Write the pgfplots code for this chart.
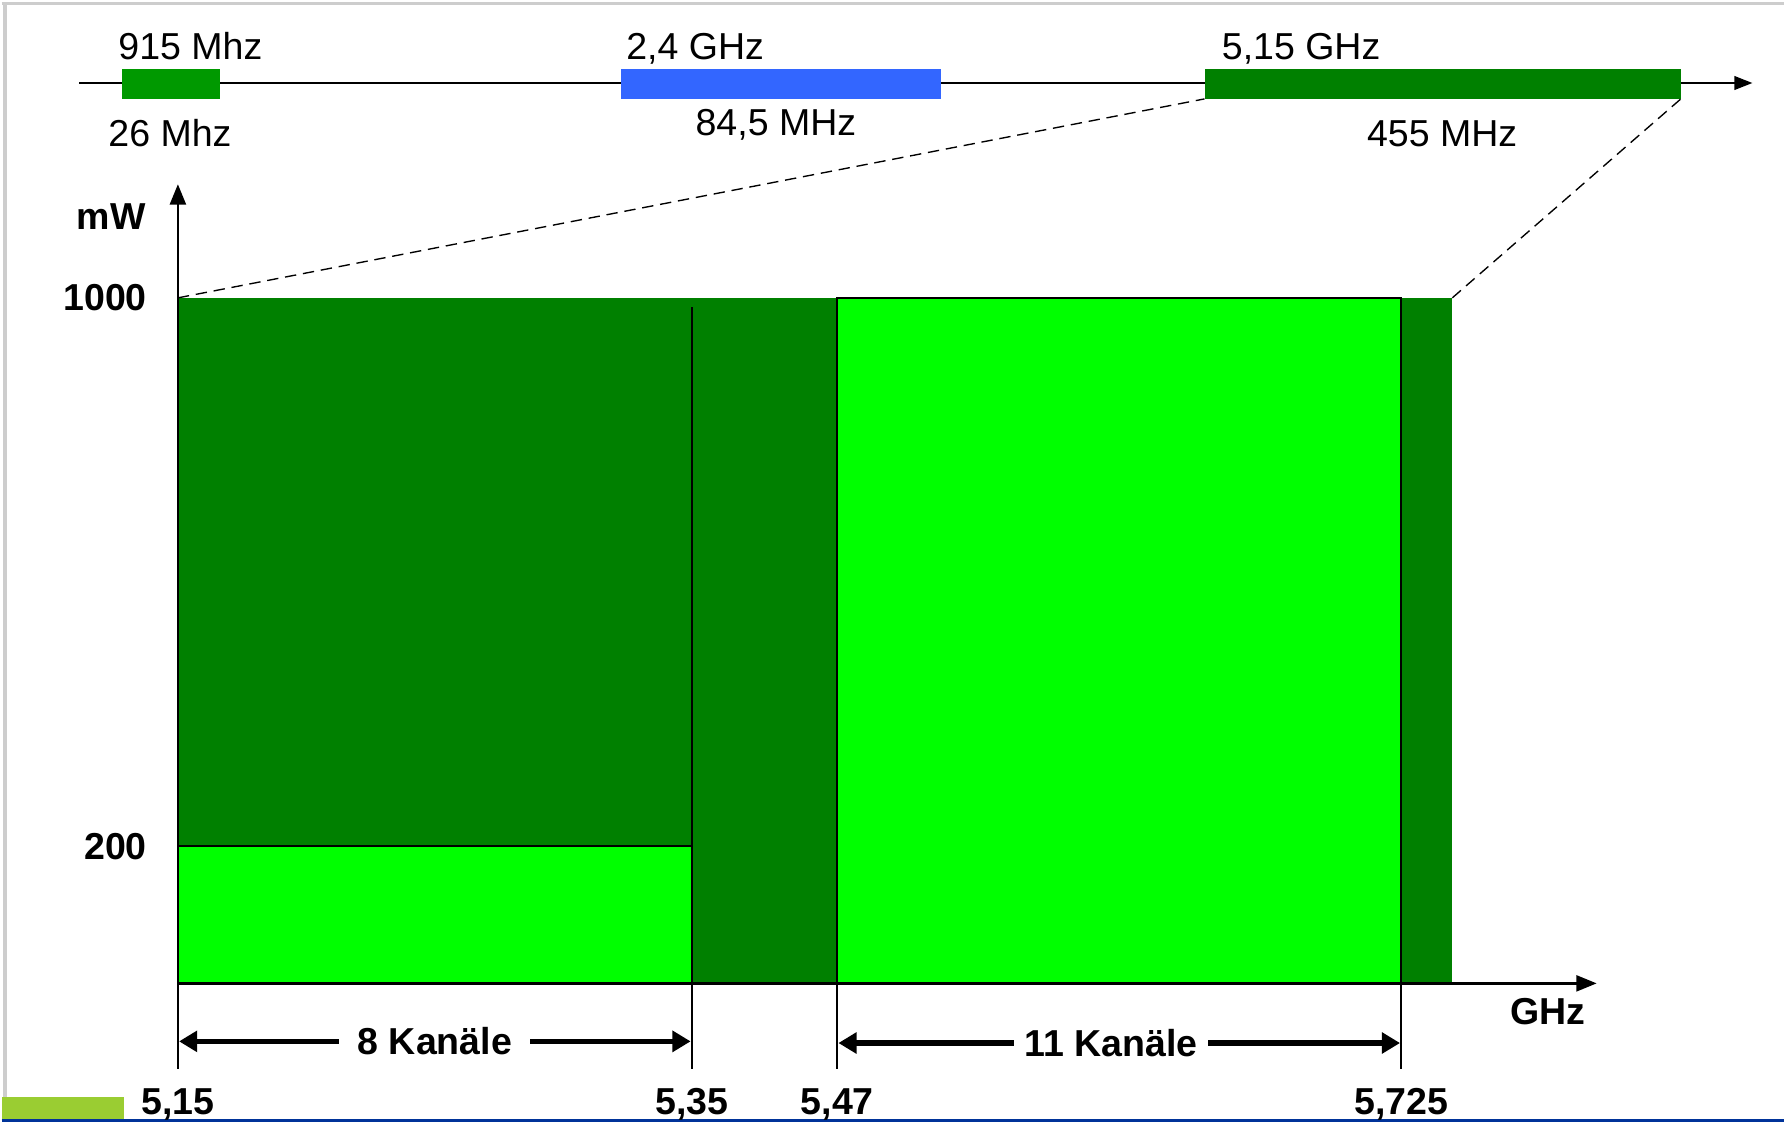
\documentclass[border=0pt]{standalone}
\usepackage{fontspec}
\setmainfont{Liberation Sans}
\usepackage{pgfplots}
\pgfplotsset{compat=1.18}
\usetikzlibrary{arrows.meta}
\definecolor{dkgreen}{RGB}{0,128,0}
\definecolor{ltgreen}{RGB}{0,255,0}
\definecolor{midgreen}{RGB}{0,153,0}
\definecolor{bandblue}{RGB}{51,102,255}
\definecolor{framegray}{RGB}{205,205,205}
\definecolor{navyline}{RGB}{0,51,153}
\definecolor{ygreen}{RGB}{154,205,50}
\newcommand{\fs}{\fontsize{16.5}{19.8}\selectfont}
\begin{document}
\begin{tikzpicture}
\begin{axis}[
  x=0.5pt, y=0.3015pt,
  xmin=0, xmax=1248, ymin=0, ymax=1165.8,
  axis lines=left,
  axis line style={line width=1.2pt, -{Triangle[length=9pt,width=7pt]}},
  axis on top,
  clip=false,
  xtick={0,452,580,1076},
  xticklabels={{5,15},{5,35},{5,47},{5,725}},
  ytick={200,1000},
  yticklabels={200,1000},
  major tick length=0pt,
  tick style={draw=none},
  ticklabel style={font=\fs\bfseries},
  xticklabel style={anchor=base, inner sep=0pt, yshift=-57.5pt},
  yticklabel style={anchor=east, inner sep=0pt, xshift=-13.5pt},
]
% frame decorations
\draw[framegray, line width=1.5pt] (axis cs:-155,1429.5) -- (axis cs:1413,1429.5);
\draw[framegray, line width=1.5pt] (axis cs:-152,1429.5) -- (axis cs:-152,-165.8);
\fill[ygreen] (axis cs:-155,-165.8) rectangle (axis cs:-47,-202.3);
\draw[navyline, line width=1.2pt] (axis cs:-155,-199.5) -- (axis cs:1413,-199.5);
\path (axis cs:-155,-202.3) rectangle (axis cs:1413,1434.5);

% main chart areas (mW)
\addplot[fill=dkgreen, draw=none] coordinates {(0,0) (0,1000) (1121,1000) (1121,0)} -- cycle;
\addplot[fill=ltgreen, draw=black, line width=1pt] coordinates {(0,0) (0,200) (452,200) (452,0)} -- cycle;
\addplot[fill=ltgreen, draw=black, line width=1pt] coordinates {(580,0) (580,1000) (1076,1000) (1076,0)} -- cycle;
\addplot[black, line width=1pt] coordinates {(452,0) (452,986.7)};

% separators below axis
\draw[black, line width=0.9pt] (axis cs:0,0) -- (axis cs:0,-124.4);
\draw[black, line width=0.9pt] (axis cs:452,0) -- (axis cs:452,-124.4);
\draw[black, line width=0.9pt] (axis cs:580,0) -- (axis cs:580,-124.4);
\draw[black, line width=0.9pt] (axis cs:1076,0) -- (axis cs:1076,-124.4);

% channel arrows
\draw[line width=2.5pt, {Triangle[length=8pt,width=9pt]}-{Triangle[length=8pt,width=9pt]}]
  (axis cs:1,-84.6) -- node[fill=white, inner xsep=8pt, inner ysep=2pt, font=\fs\bfseries] {8 Kanäle} (axis cs:451,-84.6);
\draw[line width=2.5pt, {Triangle[length=8pt,width=9pt]}-{Triangle[length=8pt,width=9pt]}]
  (axis cs:581,-87) -- node[pos=0.485, fill=white, inner xsep=4.5pt, inner ysep=2pt, font=\fs\bfseries] {11 Kanäle} (axis cs:1075,-87);

% axis titles
\node[anchor=base east, font=\fs\bfseries, inner sep=0pt] at (axis cs:-28,1099.5) {mW};
\node[anchor=base, font=\fs\bfseries, inner sep=0pt] at (axis cs:1205,-59.7) {GHz};

% top frequency overview
\draw[line width=1pt, -{Triangle[length=8pt,width=6pt]}] (axis cs:-87,1313.4) -- (axis cs:1385,1313.4);
\addplot[fill=midgreen, draw=none] coordinates {(-49,1290.2) (-49,1333.3) (37,1333.3) (37,1290.2)} -- cycle;
\addplot[fill=bandblue, draw=none] coordinates {(390,1290.2) (390,1333.3) (671,1333.3) (671,1290.2)} -- cycle;
\addplot[fill=dkgreen, draw=none] coordinates {(903,1290.2) (903,1333.3) (1322,1333.3) (1322,1290.2)} -- cycle;

\draw[black, line width=0.6pt, dash pattern=on 5pt off 3pt] (axis cs:0,1000) -- (axis cs:903,1290.2);
\draw[black, line width=0.6pt, dash pattern=on 5pt off 3pt] (axis cs:1121,1000) -- (axis cs:1322,1290.2);

\node[anchor=base, font=\fs, inner sep=0pt] at (axis cs:11,1348.3) {915 Mhz};
\node[anchor=base, font=\fs, inner sep=0pt] at (axis cs:455,1348.3) {2,4 GHz};
\node[anchor=base, font=\fs, inner sep=0pt] at (axis cs:988,1348.3) {5,15 GHz};
\node[anchor=base, font=\fs, inner sep=0pt] at (axis cs:-7,1220.6) {26 Mhz};
\node[anchor=base, font=\fs, inner sep=0pt] at (axis cs:526,1237.1) {84,5 MHz};
\node[anchor=base, font=\fs, inner sep=0pt] at (axis cs:1112,1220.6) {455 MHz};
\end{axis}
\end{tikzpicture}
\end{document}
